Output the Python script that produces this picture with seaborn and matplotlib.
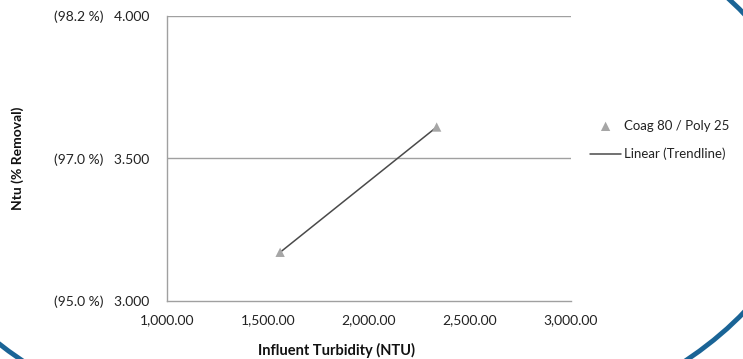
import numpy as np
import pandas as pd
import matplotlib
matplotlib.use("Agg")
import matplotlib.pyplot as plt
from matplotlib.patches import Ellipse
from matplotlib.ticker import FuncFormatter
import seaborn as sns

# ---- data ----
influent_ntu = [1560.0, 2335.0]
ntu_value = [3.17, 3.61]
series_name = "Coag 80 / Poly 25"
trend_name = "Linear (Trendline)"
x_ticks = [1000, 1500, 2000, 2500, 3000]
y_ticks = [3.0, 3.5, 4.0]
pct_labels = ["(95.0 %)", "(97.0 %)", "(98.2 %)"]
x_label = "Influent Turbidity (NTU)"
y_label = "Ntu (% Removal)"

sns.set_theme(style="white")
plt.rcParams['font.family'] = ['Lato', 'DejaVu Sans']

W, H = 743, 359
fig = plt.figure(figsize=(W / 100, H / 100), dpi=100)
ax = fig.add_axes([167 / W, 1 - 300.7 / H, 404 / W, 284.7 / H])

df = pd.DataFrame({"x": influent_ntu, "y": ntu_value})
coef = np.polyfit(df["x"], df["y"], 1)
df["fit"] = np.polyval(coef, df["x"])

sns.lineplot(data=df, x="x", y="fit", ax=ax, color="#4a4a4a", linewidth=1.1,
             label=trend_name, zorder=3)
sns.scatterplot(data=df, x="x", y="y", ax=ax, marker="^", s=45, color="#a6a6a6",
                edgecolor="none", label=series_name, zorder=4)

ax.set_xlim(1000, 3000)
ax.set_ylim(3.0, 4.0)
ax.set_xticks(x_ticks)
ax.xaxis.set_major_formatter(FuncFormatter(lambda v, p: f"{v:,.2f}"))
ax.set_yticks(y_ticks)
ax.set_yticklabels([f"{p}   {v:.3f}" for p, v in zip(pct_labels, y_ticks)])

grid_c = "#a0a0a0"
for yv in y_ticks[1:]:
    ax.axhline(yv, color=grid_c, linewidth=1.0, zorder=1)
for side in ["top", "right"]:
    ax.spines[side].set_visible(False)
for side in ["left", "bottom"]:
    ax.spines[side].set_color(grid_c)
    ax.spines[side].set_linewidth(1.0)

ax.tick_params(axis="both", which="major", direction="out", length=4.5, width=1.0,
               color=grid_c, labelsize=10, labelcolor="#222222", pad=3)
ax.tick_params(axis="y", pad=8)
ax.tick_params(axis="x", pad=5)

ax.set_xlabel("")
ax.set_ylabel("")
fig.text(337 / W, 1 - 350 / H, x_label, fontsize=10.5, fontweight="bold",
         color="#111111", ha="center", va="center")
fig.text(18 / W, 1 - 158 / H, y_label, rotation=90, fontsize=10, fontweight="bold",
         color="#111111", ha="center", va="center")

handles, labels = ax.get_legend_handles_labels()
order = [labels.index(series_name), labels.index(trend_name)]
leg = ax.legend([handles[i] for i in order], [labels[i] for i in order],
                loc="center left", bbox_to_anchor=(1.035, (300.7 - 140) / 284.7),
                frameon=False, fontsize=9.5, handlelength=2.3, handletextpad=0.25,
                labelspacing=1.2, borderaxespad=0)
for t in leg.get_texts():
    t.set_color("#222222")

# decorative slide border arc
ell = Ellipse((354 / W, 1 - 163 / H), 2 * 456 / W, 2 * 288 / H, transform=fig.transFigure,
              fill=False, edgecolor="#1a6496", linewidth=3.5, clip_on=False, zorder=5)
fig.patches.append(ell)

fig.savefig("out.png", dpi=100)
